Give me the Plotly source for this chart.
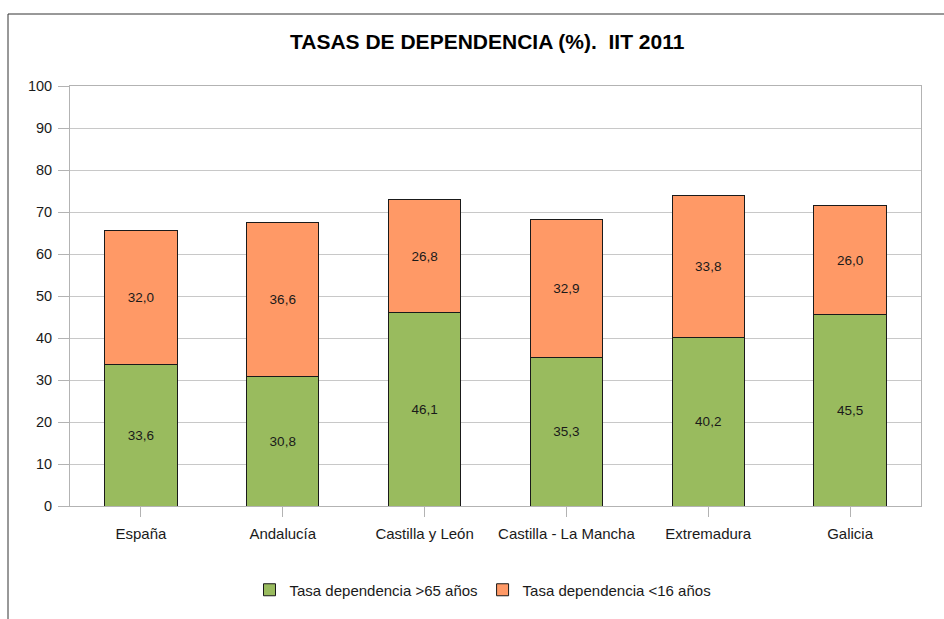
import plotly.graph_objects as go

categories = ["España", "Andalucía", "Castilla y León", "Castilla - La Mancha", "Extremadura", "Galicia"]
mayores65 = [33.6, 30.8, 46.1, 35.3, 40.2, 45.5]
menores16 = [32.0, 36.6, 26.8, 32.9, 33.8, 26.0]
yticks = [0, 10, 20, 30, 40, 50, 60, 70, 80, 90, 100]

def fmt(v):
    return f"{v:.1f}".replace(".", ",")

W, H = 944, 619
L, R, T, B = 70, 23, 86, 113
pw, ph = W - L - R, H - T - B

label_font = dict(family="Liberation Sans", size=13.5, color="#1a1a1a")

fig = go.Figure()
fig.add_trace(go.Bar(
    x=categories, y=mayores65, name="Tasa dependencia >65 años",
    marker=dict(color="#99BB5E", line=dict(color="#1a1a1a", width=1)),
    text=[fmt(v) for v in mayores65], textposition="inside", insidetextanchor="middle",
    textfont=label_font,
))
fig.add_trace(go.Bar(
    x=categories, y=menores16, name="Tasa dependencia <16 años",
    marker=dict(color="#FF9966", line=dict(color="#1a1a1a", width=1)),
    text=[fmt(v) for v in menores16], textposition="inside", insidetextanchor="middle",
    textfont=label_font,
))

def px2x(p):
    return (p - L) / pw

def py2y(p):
    return 1 - (p - T) / ph

fig.update_layout(
    width=W, height=H,
    margin=dict(l=L, r=R, t=T, b=B, autoexpand=False),
    barmode="stack", bargap=0.49,
    paper_bgcolor="white", plot_bgcolor="white",
    font=dict(family="Liberation Sans", size=14, color="#1a1a1a"),
    showlegend=True,
    legend=dict(orientation="h", x=px2x(483), xanchor="center", y=py2y(590), yanchor="middle",
                font=dict(size=15), itemwidth=30, traceorder="normal", tracegroupgap=0),
    annotations=[dict(text="<b>TASAS DE DEPENDENCIA (%).  IIT 2011</b>", xref="paper", yref="paper",
                      x=px2x(487), y=py2y(42), xanchor="center", yanchor="middle", showarrow=False,
                      font=dict(size=21, color="#000000"))],
    shapes=[
        dict(type="line", xref="paper", yref="paper", x0=px2x(8), x1=px2x(8), y0=py2y(14), y1=py2y(640),
             line=dict(color="#333333", width=1)),
        dict(type="line", xref="paper", yref="paper", x0=px2x(8), x1=px2x(960), y0=py2y(14), y1=py2y(14),
             line=dict(color="#333333", width=1)),
    ],
    uniformtext=dict(minsize=10, mode="show"),
)
fig.update_xaxes(showline=True, linecolor="#b3b3b3", mirror=True, ticks="outside", ticklen=10,
                 tickcolor="#b3b3b3", tickfont=dict(size=15), showgrid=False, automargin=False,
                 ticklabelstandoff=4)
fig.update_yaxes(range=[0, 100], tickvals=yticks, showline=True, linecolor="#b3b3b3", mirror=True,
                 ticks="outside", ticklen=11, tickcolor="#b3b3b3", gridcolor="#c8c8c8", gridwidth=1,
                 tickfont=dict(size=14.5), zeroline=False, ticklabelstandoff=3, automargin=False)

fig.write_html("out.html", config={"displayModeBar": False},
               post_script="document.body.style.margin='0';document.body.style.padding='0';")
